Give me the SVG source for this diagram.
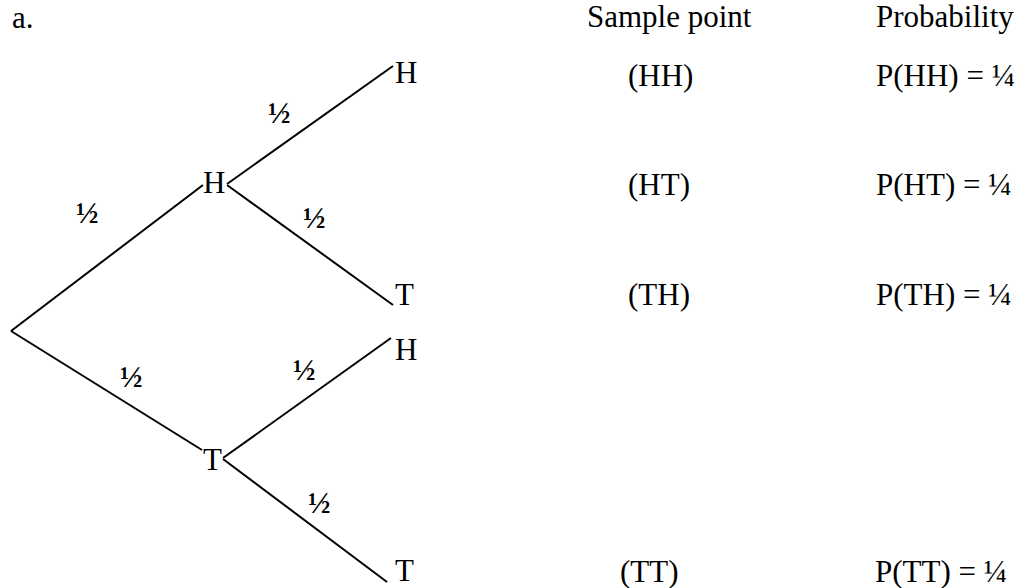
<svg xmlns="http://www.w3.org/2000/svg" width="1020" height="588" viewBox="0 0 1020 588">
<style>
text{font-family:"Liberation Serif","Times New Roman",serif;fill:#000}
.t{font-size:31px}
.f{font-size:30px;font-weight:bold}
.e{stroke:#000;stroke-width:2;fill:none}
</style>
<rect width="1020" height="588" fill="#fff"/>
<text class="t" x="12" y="28">a.</text>
<text class="t" x="587" y="27">Sample point</text>
<text class="t" x="876" y="27">Probability</text>
<g id="connectors">
<line class="e" x1="11" y1="331" x2="203" y2="185"/>
<line class="e" x1="11" y1="331" x2="202" y2="450"/>
<line class="e" x1="227" y1="184" x2="393" y2="66"/>
<line class="e" x1="227" y1="185" x2="393" y2="305"/>
<line class="e" x1="223" y1="458" x2="391" y2="338"/>
<line class="e" x1="223" y1="459" x2="387" y2="582"/>
<text class="f" x="268" y="123">½</text>
<text class="f" x="76" y="223">½</text>
<text class="f" x="303" y="228">½</text>
<text class="f" x="120" y="387">½</text>
<text class="f" x="293" y="380">½</text>
<text class="f" x="308" y="513">½</text>
</g>
<g id="n-H1"><text class="t" x="203" y="193">H</text></g>
<g id="n-T1"><text class="t" x="203" y="470">T</text></g>
<g id="n-HH"><text class="t" x="395" y="83">H</text></g>
<g id="n-HT"><text class="t" x="395" y="305">T</text></g>
<g id="n-TH"><text class="t" x="395" y="360">H</text></g>
<g id="n-TT"><text class="t" x="395" y="581">T</text></g>
<g id="row-HH"><text class="t" x="628" y="86">(HH)</text><text class="t" x="876" y="86">P(HH) = ¼</text></g>
<g id="row-HT"><text class="t" x="628" y="195">(HT)</text><text class="t" x="876" y="195">P(HT) = ¼</text></g>
<g id="row-TH"><text class="t" x="628" y="305">(TH)</text><text class="t" x="876" y="305">P(TH) = ¼</text></g>
<g id="row-TT"><text class="t" x="620" y="582">(TT)</text><text class="t" x="875" y="582">P(TT) = ¼</text></g>
</svg>
